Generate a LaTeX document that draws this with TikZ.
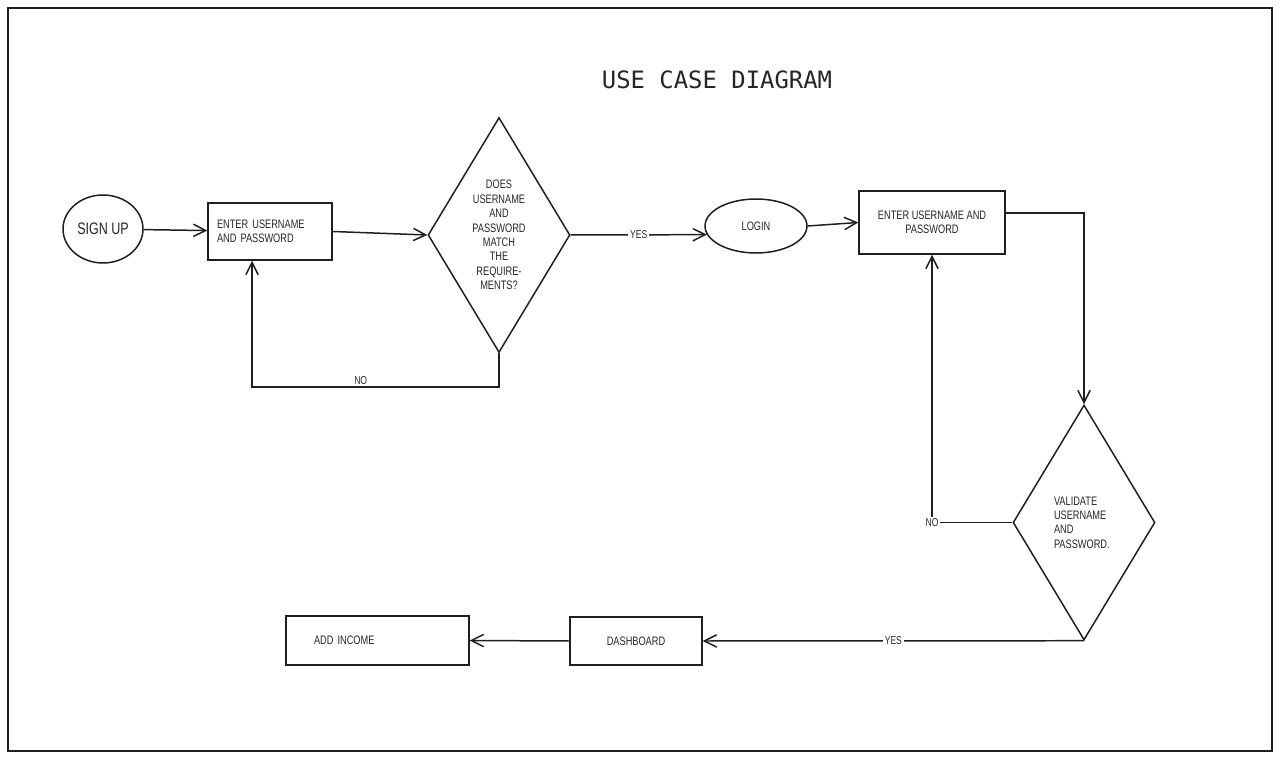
\documentclass[tikz,border=0pt]{standalone}
\usepackage{fontspec}
\setmainfont{Liberation Sans}
\newfontfamily\handfont[FakeStretch=0.75]{Liberation Sans}
\newfontfamily\titlefont{DejaVu Sans Mono}
\usetikzlibrary{shapes.geometric,arrows.meta}

\begin{document}
\begin{tikzpicture}[x=0.02cm, y=-0.02cm, line width=0.85pt, draw=black!88,
  every node/.style={font=\handfont\fontsize{7}{8.2}\selectfont, text=black!85},
  stepbox/.style={rectangle,draw,inner sep=0pt},
  oval/.style={ellipse,draw,inner sep=0pt},
  choice/.style={diamond,draw,inner sep=0pt,shape aspect=0.55,minimum width=2.84cm,minimum height=4.7cm},
  arr/.style={-{Straight Barb[length=7pt,width=7pt]}},
  lbl/.style={fill=white,inner sep=1pt,font=\handfont\fontsize{6.5}{7}\selectfont}]

  \useasboundingbox (0,0) rectangle (1280,759);
  % Frame
  \draw[line width=0.7pt] (8,8) rectangle (1272,751);

  % Title
  \node[font=\titlefont\fontsize{13.6}{15}\selectfont] (title) at (717,80) {USE CASE DIAGRAM};

  % Sign up part
  \node[oval,minimum width=1.6cm,minimum height=1.36cm,font=\handfont\fontsize{9.5}{11}\selectfont] (signup) at (103,229) {SIGN UP};
  \node[stepbox,minimum width=2.48cm,minimum height=1.14cm,text width=2.12cm,align=left] (enter1) at (270,231.5) {ENTER USERNAME\\AND PASSWORD};
  \node[choice,align=center] (check) at (499,235) {DOES\\USERNAME\\AND\\PASSWORD\\MATCH\\THE\\REQUIRE-\\MENTS?};

  % Login part
  \node[oval,minimum width=2.04cm,minimum height=1.08cm] (login) at (756,226) {LOGIN};
  \node[stepbox,minimum width=2.92cm,minimum height=1.26cm,align=center] (enter2) at (932,222.5) {ENTER USERNAME AND\\PASSWORD};
  \node[choice,text width=1.2cm,align=left] (valid) at (1084,522.5) {VALIDATE\\USERNAME\\AND\\PASSWORD.};

  % Dashboard part
  \node[stepbox,minimum width=2.64cm,minimum height=0.96cm] (dash) at (636,641) {DASHBOARD};
  \node[stepbox,minimum width=3.66cm,minimum height=0.98cm,text width=2.54cm,align=left] (income) at (377.5,640.5) {ADD INCOME};

  % Connections
  \draw[arr] (signup) -- (enter1);
  \draw[arr] (enter1.east) -- (check.west);
  \draw[arr] (check.south) -- ++(0,34) -| node[pos=0.28,above,lbl,fill=none] {NO} ([xshift=-0.36cm]enter1.south);
  \draw[arr] (check.east) -- node[lbl,pos=0.5] {YES} (login.190);
  \draw[arr] (login.east) -- (enter2.west);
  \draw[arr] ([yshift=0.19cm]enter2.east) -| (valid.north);
  \draw[arr] (valid.west) -| node[lbl,pos=0.5] {NO} (enter2.south);
  \draw[arr] (valid.south) -- node[lbl,pos=0.5] {YES} (dash.east);
  \draw[arr] (dash.west) -- (income.east);

\end{tikzpicture}
\end{document}
